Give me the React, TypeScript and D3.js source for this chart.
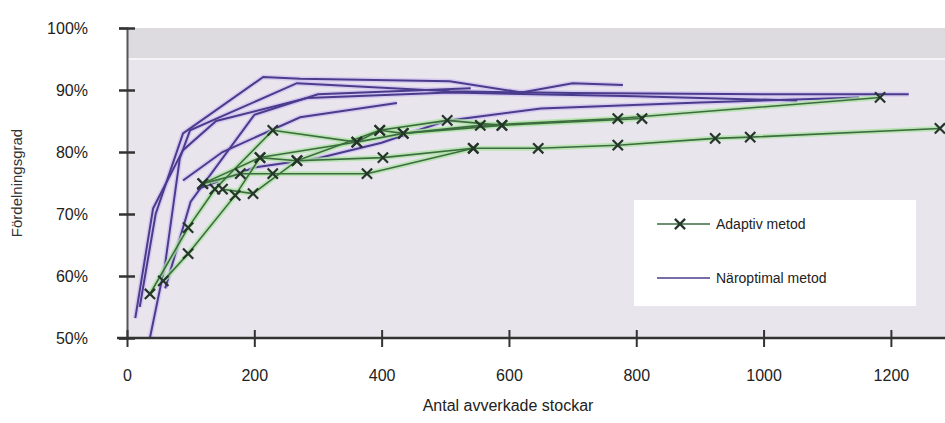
import React, { useEffect, useRef } from 'react';
import * as d3 from 'd3';

// antal avverkade stockar, fördelningsgrad (%)
const adaptivSeries: [number, number][][] = [
  [[36, 57.1], [96, 67.8], [138, 74], [229, 83.5], [361, 81.6], [434, 83], [555, 84.3], [771, 85.4], [1183, 88.8]],
  [[57, 59.2], [96, 63.6], [170, 73], [209, 79.1], [267, 78.6], [397, 83.5], [503, 85.1], [589, 84.3], [809, 85.4]],
  [[119, 74.9], [178, 76.5], [229, 76.5], [377, 76.5], [544, 80.6], [646, 80.6], [771, 81.1], [924, 82.2], [979, 82.4], [1277, 83.8]],
  [[150, 74], [198, 73.3], [267, 78.6], [402, 79.1], [544, 80.6]],
  [[119, 74.9], [209, 79.1], [361, 81.6], [397, 83.5], [434, 83], [589, 84.3]],
];

const naroptimalSeries: [number, number][][] = [
  [[20, 55], [45, 70], [88, 83], [214, 92.1], [272, 91.8], [507, 91.4], [620, 89.6], [700, 91.1], [779, 90.8]],
  [[36, 50], [60, 62], [83, 79], [99, 83.5], [267, 91.1], [507, 89.8], [700, 89.5], [1000, 89.3], [1228, 89.3]],
  [[13, 53.2], [41, 70.9], [88, 80.3], [140, 85], [283, 88.7], [507, 89.6], [800, 89], [1053, 88.3]],
  [[88, 75.4], [150, 80], [272, 85.6], [424, 87.9]],
  [[60, 58], [100, 72], [200, 86], [300, 89.3], [540, 90.3]],
  [[110, 74], [200, 77.5], [300, 79], [400, 81.5], [500, 85], [650, 87], [900, 88], [1150, 88.8]],
];

const xTicks = [0, 200, 400, 600, 800, 1000, 1200];
const yTicks = [50, 60, 70, 80, 90, 100];
const legendLabels = ['Adaptiv metod', 'Näroptimal metod'];

export default function App() {
  const ref = useRef<SVGSVGElement>(null);

  useEffect(() => {
    const svg = d3.select(ref.current);
    svg.selectAll('*').remove();
    const font = 'Liberation Sans, Arial, sans-serif';

    const x = d3.scaleLinear().domain([0, 1285]).range([127, 945]);
    const y = d3.scaleLinear().domain([50, 100]).range([338, 28]);

    // plot background
    svg.append('rect').attr('x', x(0)).attr('y', y(100)).attr('width', 945 - x(0)).attr('height', y(50) - y(100)).attr('fill', '#e9e5ed');
    svg.append('rect').attr('x', x(0)).attr('y', y(100)).attr('width', 945 - x(0)).attr('height', y(95) - y(100)).attr('fill', '#dddbe0');
    svg.append('line').attr('x1', x(0)).attr('x2', 945).attr('y1', y(95)).attr('y2', y(95)).attr('stroke', '#f6f4f8').attr('stroke-width', 2);

    const line = d3.line<[number, number]>().x(d => x(d[0])).y(d => y(d[1])).curve(d3.curveLinear);
    const g = svg.append('g');

    // near optimal lines
    naroptimalSeries.forEach(s => {
      g.append('path').attr('d', line(s)).attr('fill', 'none').attr('stroke', '#cdbdf0').attr('stroke-width', 5).attr('opacity', 0.7);
    });
    naroptimalSeries.forEach(s => {
      g.append('path').attr('d', line(s)).attr('fill', 'none').attr('stroke', '#4a3c8c').attr('stroke-width', 2);
    });

    // adaptive lines
    adaptivSeries.forEach(s => {
      g.append('path').attr('d', line(s)).attr('fill', 'none').attr('stroke', '#a9e3a0').attr('stroke-width', 5).attr('opacity', 0.75);
    });
    adaptivSeries.forEach(s => {
      g.append('path').attr('d', line(s)).attr('fill', 'none').attr('stroke', '#3d6b40').attr('stroke-width', 1.6);
    });
    const cross = d3.symbol().type(d3.symbolX).size(70);
    adaptivSeries.forEach(s => {
      g.selectAll(null).data(s).enter().append('path')
        .attr('d', cross())
        .attr('transform', d => `translate(${x(d[0])},${y(d[1])})`)
        .attr('fill', 'none').attr('stroke', '#25352a').attr('stroke-width', 2.2);
    });

    // y axis
    const yAxis = svg.append('g').attr('transform', `translate(${x(0)},0)`)
      .call(d3.axisLeft(y).tickValues(yTicks).tickFormat(d => `${d}%`).tickSize(8).tickPadding(31));
    yAxis.select('.domain').attr('stroke', '#555').attr('stroke-width', 2);
    yAxis.selectAll('.tick line').attr('x2', 8).attr('x1', -8).attr('stroke', '#333').attr('stroke-width', 2.5);
    yAxis.selectAll('text').attr('font-family', font).attr('font-size', 16).attr('fill', '#222');

    // x axis
    const xAxis = svg.append('g').attr('transform', `translate(0,${y(50)})`)
      .call(d3.axisBottom(x).tickValues(xTicks).tickFormat(d3.format('d')).tickSize(8).tickPadding(24));
    xAxis.select('.domain').attr('d', `M${x(0) - 10},0H945`).attr('stroke', '#333').attr('stroke-width', 2.5);
    xAxis.selectAll('.tick line').attr('y1', -8).attr('y2', 9).attr('stroke', '#333').attr('stroke-width', 2);
    xAxis.selectAll('text').attr('font-family', font).attr('font-size', 16).attr('fill', '#222');

    svg.append('text').attr('x', 508).attr('y', 411).attr('text-anchor', 'middle')
      .attr('font-family', font).attr('font-size', 16).attr('fill', '#222').text('Antal avverkade stockar');
    svg.append('text').attr('transform', 'translate(22,183) rotate(-90)').attr('text-anchor', 'middle')
      .attr('font-family', font).attr('font-size', 15).attr('fill', '#333').text('Fördelningsgrad');

    // legend
    const lg = svg.append('g');
    lg.append('rect').attr('x', 634).attr('y', 200).attr('width', 282).attr('height', 106).attr('fill', '#ffffff');
    lg.append('line').attr('x1', 657).attr('x2', 710).attr('y1', 224).attr('y2', 224).attr('stroke', '#3d6b40').attr('stroke-width', 1.6);
    lg.append('path').attr('d', cross()).attr('transform', 'translate(680,224)').attr('fill', 'none').attr('stroke', '#25352a').attr('stroke-width', 2.2);
    lg.append('line').attr('x1', 657).attr('x2', 710).attr('y1', 278).attr('y2', 278).attr('stroke', '#4a3c8c').attr('stroke-width', 1.6);
    legendLabels.forEach((l, i) => {
      lg.append('text').attr('x', 716).attr('y', 229 + i * 54).attr('font-family', font).attr('font-size', 14).attr('fill', '#222').text(l);
    });
  }, []);

  return (
    <svg ref={ref} width={945} height={423} style={{ position: 'absolute', left: 0, top: 0, background: '#fff' }} />
  );
}
